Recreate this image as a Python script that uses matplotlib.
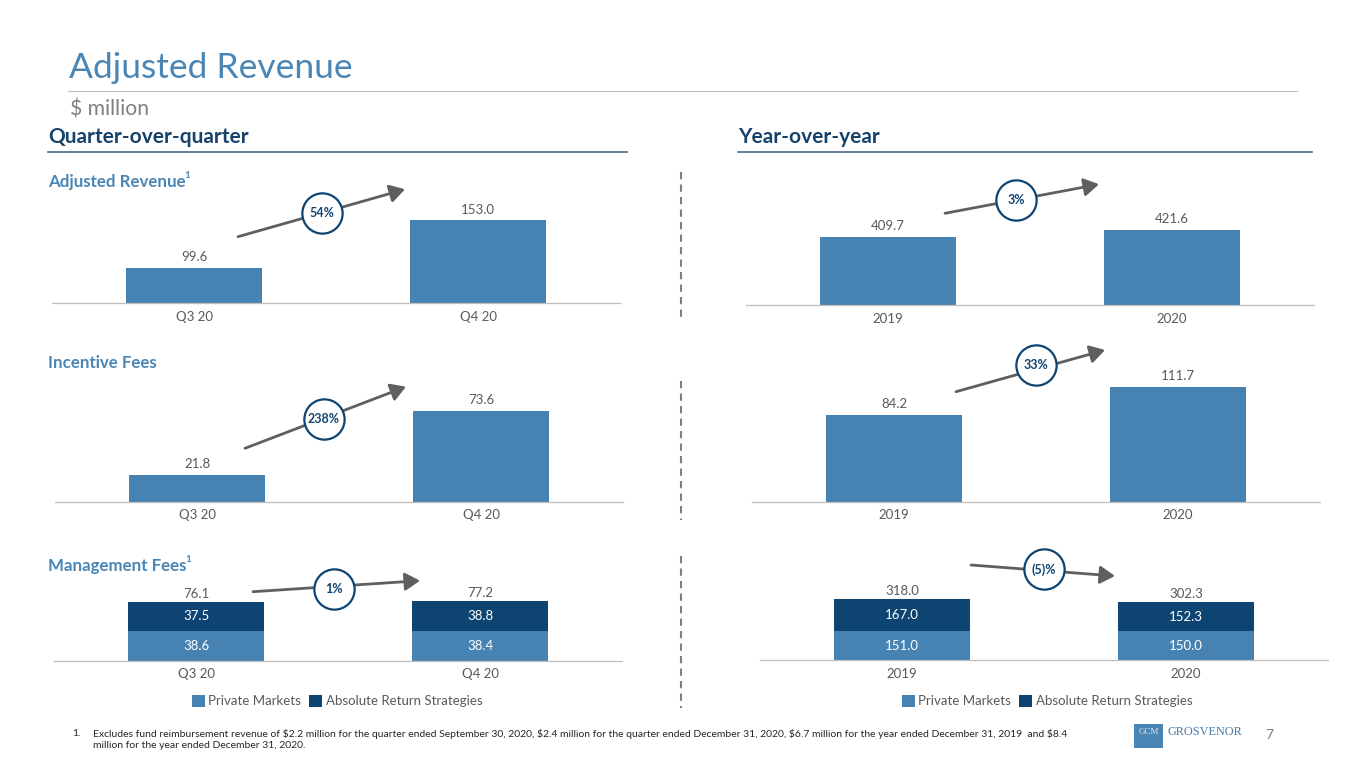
import matplotlib
matplotlib.use("Agg")
import matplotlib.pyplot as plt
from matplotlib.lines import Line2D
from matplotlib.patches import FancyArrowPatch, Rectangle, Patch

# ---------------- data ----------------
qoq_cats = ["Q3 20", "Q4 20"]
yoy_cats = ["2019", "2020"]

qoq_adj_rev = [99.6, 153.0]
yoy_adj_rev = [409.7, 421.6]

qoq_incentive = [21.8, 73.6]
yoy_incentive = [84.2, 111.7]

qoq_mgmt_pm = [38.6, 38.4]
qoq_mgmt_ars = [37.5, 38.8]
qoq_mgmt_total = [76.1, 77.2]
yoy_mgmt_pm = [151.0, 150.0]
yoy_mgmt_ars = [167.0, 152.3]
yoy_mgmt_total = [318.0, 302.3]

qoq_growth = ["54%", "238%", "1%"]
yoy_growth = ["3%", "33%", "(5)%"]

legend_labels = ["Private Markets", "Absolute Return Strategies"]

footnote_lines = [
    "Excludes fund reimbursement revenue of \\$2.2 million for the quarter ended September 30, 2020, "
    "\\$2.4 million for the quarter ended December 31, 2020, \\$6.7 million for the year ended December 31, 2019  and \\$8.4",
    "million for the year ended December 31, 2020.",
]

# ---------------- style ----------------
W, H = 1365, 768
LIGHT = "#4783B2"
NAVY = "#0D4471"
TITLE_C = "#4A86B5"
HEAD_C = "#17426B"
GRAY_T = "#595959"
FONT = "Lato"
plt.rcParams["font.family"] = [FONT, "DejaVu Sans"]

fig = plt.figure(figsize=(W / 100, H / 100), dpi=100)


def fx(x):
    return x / W


def fy(y):
    return 1 - y / H


def hline(x0, x1, y, color, lw):
    fig.add_artist(Line2D([fx(x0), fx(x1)], [fy(y), fy(y)], color=color, lw=lw,
                          transform=fig.transFigure))


def vdash(x, y0, y1):
    fig.add_artist(Line2D([fx(x), fx(x)], [fy(y0), fy(y1)], color="#7F7F7F", lw=1.5,
                          ls=(0, (3.5, 2.5)), transform=fig.transFigure))


# ---------------- headers ----------------
fig.text(fx(69), fy(68), "Adjusted Revenue", fontsize=25.5, color=TITLE_C, va="center", ha="left")
hline(68, 1297, 91, "#BFBFBF", 0.8)
fig.text(fx(70), fy(110), "$ million", fontsize=15.2, color="#7F7F7F", va="center", ha="left")

fig.text(fx(48), fy(137), "Quarter-over-quarter", fontsize=15, fontweight="bold", color=HEAD_C,
         va="center", ha="left")
hline(48, 627, 152, "#46698C", 1.2)
fig.text(fx(738), fy(137), "Year-over-year", fontsize=15, fontweight="bold", color=HEAD_C,
         va="center", ha="left")
hline(738, 1312, 152, "#46698C", 1.2)

subheads = [("Adjusted Revenue", True, 182), ("Incentive Fees", False, 363), ("Management Fees", True, 566)]
sub_texts = []
for txt, sup, y in subheads:
    t = fig.text(fx(48), fy(y), txt, fontsize=12.2, fontweight="bold", color=TITLE_C, va="center", ha="left")
    sub_texts.append((t, sup, y))

vdash(681, 172, 320)
vdash(681, 381, 520)
vdash(681, 556, 708)


# ---------------- panels ----------------
def make_ax(left, base, v0, ppu, hpx=130, wpx=568):
    ax = fig.add_axes([fx(left), fy(base), wpx / W, hpx / H])
    ax.set_xlim(-0.5, 1.5)
    ax.set_ylim(v0, v0 + hpx / ppu)
    for s in ["top", "right", "left"]:
        ax.spines[s].set_visible(False)
    ax.spines["bottom"].set_color("#BFBFBF")
    ax.spines["bottom"].set_linewidth(0.9)
    ax.set_yticks([])
    ax.tick_params(axis="x", length=0, pad=5.5, labelsize=9.5, labelcolor=GRAY_T)
    ax.patch.set_alpha(0)
    return ax


BW = 0.479


def simple_bars(ax, cats, vals):
    x = list(range(len(cats)))
    y0 = ax.get_ylim()[0]
    ax.bar(x, [v - y0 for v in vals], width=BW, bottom=y0, color=LIGHT)
    ax.set_xticks(x)
    ax.set_xticklabels(cats)
    for xi, v in zip(x, vals):
        ax.annotate(f"{v:.1f}", (xi, v), xytext=(0, 7.8), textcoords="offset points",
                    ha="center", va="center", fontsize=9.5, color=GRAY_T, annotation_clip=False)


def stacked_bars(ax, cats, pm, ars, tot):
    x = list(range(len(cats)))
    ax.bar(x, pm, width=BW, color=LIGHT)
    ax.bar(x, ars, width=BW, bottom=pm, color=NAVY)
    ax.set_xticks(x)
    ax.set_xticklabels(cats)
    for xi, p, a, t in zip(x, pm, ars, tot):
        ax.text(xi, p / 2, f"{p:.1f}", ha="center", va="center", fontsize=9.5, color="white")
        ax.text(xi, p + a / 2, f"{a:.1f}", ha="center", va="center", fontsize=9.5, color="white")
        ax.annotate(f"{t:.1f}", (xi, p + a), xytext=(0, 5.8), textcoords="offset points",
                    ha="center", va="center", fontsize=9.5, color=GRAY_T, annotation_clip=False)


ax1 = make_ax(52, 303, 60.3, 0.891)
simple_bars(ax1, qoq_cats, qoq_adj_rev)
ax2 = make_ax(746, 305, 300.0, 0.617)
simple_bars(ax2, yoy_cats, yoy_adj_rev)
ax3 = make_ax(55, 501.7, 0.0, 1.236)
simple_bars(ax3, qoq_cats, qoq_incentive)
ax4 = make_ax(752, 501.7, 0.0, 1.03)
simple_bars(ax4, yoy_cats, yoy_incentive)
ax5 = make_ax(54, 660.7, 0.0, 0.775)
stacked_bars(ax5, qoq_cats, qoq_mgmt_pm, qoq_mgmt_ars, qoq_mgmt_total)
ax6 = make_ax(760, 660, 0.0, 0.191)
stacked_bars(ax6, yoy_cats, yoy_mgmt_pm, yoy_mgmt_ars, yoy_mgmt_total)

# ---------------- growth arrows with badges ----------------
arrow_layout = [
    # (x0, y0, x1, y1, cx, cy) in page pixels
    (238, 236.7, 405, 189.3, 322, 212.7),
    (245, 448.3, 406, 386.7, 324, 419.3),
    (253, 591.7, 420, 580.7, 334, 589.3),
    (945, 213.3, 1099, 184.3, 1016, 200),
    (956, 391.7, 1105, 350, 1036, 365),
    (971, 565, 1115, 576, 1044, 569.3),
]
labels = qoq_growth + yoy_growth
for (x0, y0, x1, y1, cx, cy), lab in zip(arrow_layout, labels):
    arr = FancyArrowPatch((fx(x0), fy(y0)), (fx(x1), fy(y1)), transform=fig.transFigure,
                          arrowstyle="-|>,head_length=0.5,head_width=0.3", mutation_scale=18,
                          color="#5F5F5F", lw=2.0, shrinkA=0, shrinkB=0, zorder=5)
    fig.add_artist(arr)
    fig.add_artist(Line2D([fx(cx)], [fy(cy)], marker="o", markersize=29, markerfacecolor="white",
                          markeredgecolor=NAVY, markeredgewidth=1.6, transform=fig.transFigure, zorder=6))
    fig.text(fx(cx), fy(cy), lab, ha="center", va="center", fontsize=9, fontweight="bold",
             color=NAVY, zorder=7)

# ---------------- legends ----------------
handles = [Patch(facecolor=LIGHT, edgecolor="none"), Patch(facecolor=NAVY, edgecolor="none")]
for cx in (337, 1047):
    fig.legend(handles, legend_labels, loc="center", bbox_to_anchor=(fx(cx), fy(701)), ncol=2,
               frameon=False, fontsize=9.5, labelcolor=GRAY_T, handlelength=1.0, handleheight=1.0,
               handletextpad=0.25, columnspacing=0.6, borderpad=0, borderaxespad=0)

# ---------------- footnote ----------------
fig.text(fx(72), fy(734), "1.", fontsize=7.5, color="#262626", va="center", ha="left")
for i, line in enumerate(footnote_lines):
    fig.text(fx(93), fy(734 + 12 * i), line, fontsize=7.5, color="#262626", va="center", ha="left")

# ---------------- logo ----------------
fig.add_artist(Rectangle((fx(1134), fy(748)), 29 / W, 24 / H, transform=fig.transFigure,
                         facecolor=TITLE_C, edgecolor="none"))
fig.text(fx(1148.5), fy(732), "GCM", fontsize=6.5, color="#DCE6F0", ha="center", va="center",
         family=["Liberation Serif", "DejaVu Serif"])
fig.text(fx(1167), fy(732), "GROSVENOR", fontsize=8.8, color="#4A7AA5", ha="left", va="center",
         family=["Liberation Serif", "DejaVu Serif"])
fig.text(fx(1269), fy(735), "7", fontsize=10, color="#7F7F7F", ha="center", va="center")

# superscripts after subheads
fig.canvas.draw()
r = fig.canvas.get_renderer()
for t, sup, y in sub_texts:
    if sup:
        bb = t.get_window_extent(r)
        fig.text(bb.x1 / W - 0.0012, fy(y - 7), "1", fontsize=7, fontweight="bold", color=TITLE_C,
                 ha="left", va="center")

fig.savefig("out.png", dpi=100)
